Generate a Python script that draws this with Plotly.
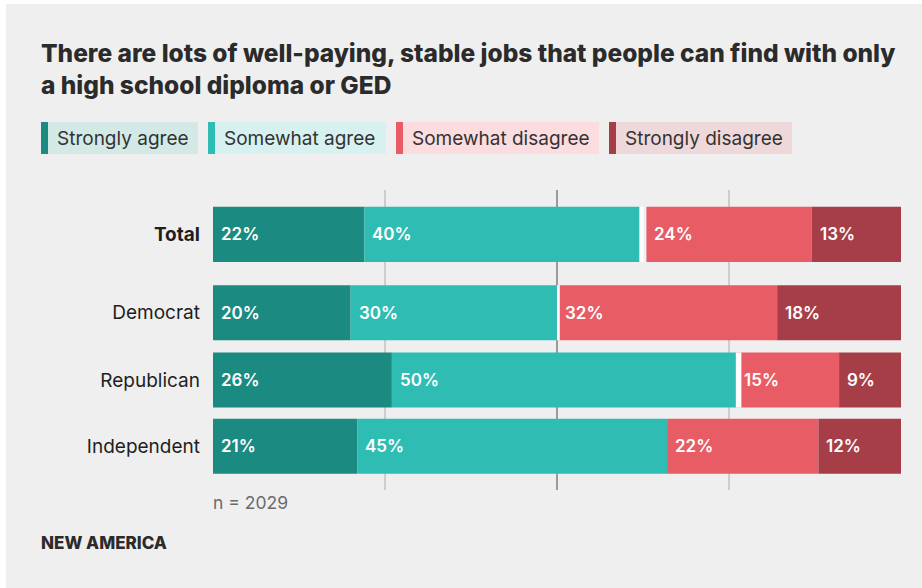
import plotly.graph_objects as go

# Survey responses by party (percent)
groups = ["Total", "Democrat", "Republican", "Independent"]
strongly_agree = [22, 20, 26, 21]
somewhat_agree = [40, 30, 50, 45]
somewhat_disagree = [24, 32, 15, 22]
strongly_disagree = [13, 18, 9, 12]
no_answer = [0.6, 0.4, 0.8, 0.0]
sample_note = "n = 2029"
title_text = "There are lots of well-paying, stable jobs that people can find with only<br>a high school diploma or GED"
categories = ["Strongly agree", "Somewhat agree", "Somewhat disagree", "Strongly disagree"]

colors = ["#1b8a80", "#2fbdb3", "#e75c65", "#a63e48"]
tints = ["#d3e9e6", "#d6f1ef", "#fbdcdf", "#efd8da"]
bg = "#efefef"

W, H = 922, 588
ML, MR, MT, MB = 213, 21, 190, 98
PW, PH = W - ML - MR, H - MT - MB

def px(x):
    return (x - ML) / PW

def py(y):
    return (H - MB - y) / PH

# row positions (Total set a little apart from the party rows)
ypos = [3.15, 1.985, 0.985, 0.0]
bar_w = 0.82

agree_end = [a + b for a, b in zip(strongly_agree, somewhat_agree)]
sd_base = [100 - s for s in strongly_disagree]
swd_base = [100 - s - w for s, w in zip(strongly_disagree, somewhat_disagree)]

fig = go.Figure()
series = [
    (strongly_agree, [0] * 4, colors[0], categories[0]),
    (somewhat_agree, strongly_agree, colors[1], categories[1]),
    (somewhat_disagree, swd_base, colors[2], categories[2]),
    (strongly_disagree, sd_base, colors[3], categories[3]),
]
annotations = []
for vals, base, col, name in series:
    fig.add_trace(go.Bar(
        x=vals, y=ypos, base=base, orientation="h", width=bar_w,
        marker=dict(color=col, line=dict(width=0)), name=name,
        showlegend=False, hoverinfo="skip",
    ))
    for v, b, yy in zip(vals, base, ypos):
        annotations.append(dict(
            x=b, y=yy, xref="x", yref="y", text=f"{v}%", showarrow=False,
            xanchor="left", yanchor="middle", xshift=6,
            font=dict(family="Inter", size=17, color="white", weight=600),
        ))

# separator between agree and disagree blocks
fig.add_trace(go.Bar(
    x=no_answer, y=ypos, base=agree_end, orientation="h", width=bar_w,
    marker=dict(color="white", line=dict(width=0)), showlegend=False, hoverinfo="skip",
))

shapes = []
# white frame edge + grey panel
shapes.append(dict(type="rect", xref="paper", yref="paper", x0=px(6), x1=px(W + 5),
                   y0=py(H + 5), y1=py(4), fillcolor=bg, line=dict(width=0), layer="below"))
# reference lines
for xv, col, wd in [(25, "#ababab", 1), (50, "#9a9a9a", 2), (75, "#ababab", 1)]:
    shapes.append(dict(type="line", xref="x", yref="paper", x0=xv, x1=xv, y0=0, y1=1,
                       line=dict(color=col, width=wd), layer="below"))

# legend chips
chips = [(41, 198), (208, 386), (396, 599), (609, 792)]
for (x0, x1), col, tint, name in zip(chips, colors, tints, categories):
    shapes.append(dict(type="rect", xref="paper", yref="paper", x0=px(x0), x1=px(x1),
                       y0=py(154), y1=py(122), fillcolor=tint, line=dict(width=0), layer="below"))
    shapes.append(dict(type="rect", xref="paper", yref="paper", x0=px(x0), x1=px(x0 + 7),
                       y0=py(154), y1=py(122), fillcolor=col, line=dict(width=0), layer="below"))
    annotations.append(dict(x=px(x0 + 14), y=py(138), xref="paper", yref="paper", text=name,
                            showarrow=False, xanchor="left", yanchor="middle",
                            font=dict(family="Inter", size=19, color="#333333")))

annotations.append(dict(x=px(39), y=py(69), xref="paper", yref="paper", text=title_text,
                        showarrow=False, xanchor="left", yanchor="middle", align="left",
                        font=dict(family="Inter", size=24.5, color="#2b2b2b", weight=800)))
annotations.append(dict(x=px(211), y=py(502), xref="paper", yref="paper", text=sample_note,
                        showarrow=False, xanchor="left", yanchor="middle",
                        font=dict(family="Inter", size=17.5, color="#6b6b6b")))
annotations.append(dict(x=px(39), y=py(543), xref="paper", yref="paper", text="NEW AMERICA",
                        showarrow=False, xanchor="left", yanchor="middle",
                        font=dict(family="Inter", size=17, color="#2b2b2b", weight=800)))

ticktext = ["<b>Total</b>"] + groups[1:]

fig.update_layout(
    width=W, height=H, margin=dict(l=ML, r=MR, t=MT, b=MB, pad=0),
    paper_bgcolor="white", plot_bgcolor="rgba(0,0,0,0)",
    barmode="overlay", showlegend=False,
    xaxis=dict(range=[0, 100], showgrid=False, zeroline=False, showticklabels=False,
               fixedrange=True),
    yaxis=dict(range=[-0.65, 3.81], tickvals=ypos, ticktext=ticktext, showgrid=False,
               zeroline=False, ticks="", ticklabelstandoff=12,
               tickfont=dict(family="Inter", size=19, color="#1e1e1e")),
    shapes=shapes, annotations=annotations,
)

fig.write_html("out.html")
